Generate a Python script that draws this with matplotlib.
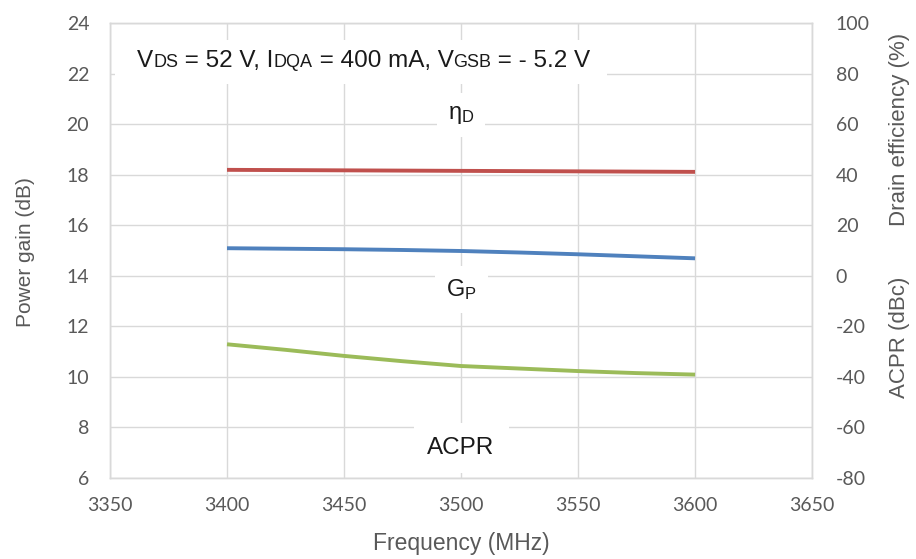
import matplotlib
matplotlib.use('Agg')
import matplotlib.pyplot as plt
import matplotlib.transforms as mtransforms
from matplotlib.patches import Rectangle

# Data
freq = [3400, 3425, 3450, 3475, 3500, 3525, 3550, 3575, 3600]
gain = [15.09, 15.07, 15.05, 15.02, 14.98, 14.92, 14.85, 14.77, 14.69]
eta = [41.9, 41.8, 41.7, 41.6, 41.5, 41.4, 41.3, 41.2, 41.1]
acpr = [-27.1, -29.3, -31.7, -33.8, -35.7, -36.7, -37.7, -38.5, -39.1]

x_ticks = [3350, 3400, 3450, 3500, 3550, 3600, 3650]
left_ticks = list(range(6, 25, 2))
right_ticks = list(range(-80, 101, 20))

plt.rcParams['mathtext.fontset'] = 'custom'
plt.rcParams['mathtext.rm'] = 'Liberation Sans'
plt.rcParams['mathtext.it'] = 'Liberation Sans'
plt.rcParams['axes.unicode_minus'] = False

grid_c = '#D9D9D9'
label_c = '#595959'
txt_c = '#1a1a1a'

fig = plt.figure(figsize=(9.16, 5.59), dpi=100)
ax = fig.add_axes([0.1201, 0.1449, 0.7664, 0.814])
ax2 = ax.twinx()

ax.plot(freq, gain, color='#4F81BD', lw=2.8, zorder=3, solid_capstyle='butt')
ax2.plot(freq, eta, color='#C0504D', lw=2.8, solid_capstyle='butt')
ax2.plot(freq, acpr, color='#9BBB59', lw=2.8, solid_capstyle='butt')

ax.set_xlim(3350, 3650)
ax.set_ylim(6, 24)
ax2.set_ylim(-80, 100)
ax.set_xticks(x_ticks)
ax.set_yticks(left_ticks)
ax2.set_yticks(right_ticks)

ax.set_axisbelow(True)
ax.grid(True, color=grid_c, lw=1.0)
for a in (ax, ax2):
    for s in a.spines.values():
        s.set_color(grid_c)
        s.set_linewidth(1.0)
    a.tick_params(length=0, labelsize=14, labelcolor=label_c)
    for lab in a.get_xticklabels() + a.get_yticklabels():
        lab.set_family('Lato')
ax.tick_params(axis='y', pad=15)
ax.tick_params(axis='x', pad=14)
ax2.tick_params(axis='y', pad=17)

# axis titles
ax.text(0.5, -0.143, 'Frequency (MHz)', transform=ax.transAxes, ha='center', va='center',
        fontsize=16.5, color=label_c, family='Liberation Sans')
ax.text(-0.121, 0.497, 'Power gain (dB)', transform=ax.transAxes, ha='center', va='center',
        rotation=90, fontsize=15, color=label_c, family='Liberation Sans')
ax2.text(1.125, 0.767, 'Drain efficiency (%)', transform=ax.transAxes, ha='center', va='center',
         rotation=90, fontsize=16, color=label_c, family='Liberation Sans')
ax2.text(1.125, 0.31, 'ACPR (dBc)', transform=ax.transAxes, ha='center', va='center',
         rotation=90, fontsize=16, color=label_c, family='Liberation Sans')

# series labels with white boxes
ax.text(3500, 20.36, 'η$_\\mathregular{D}$', ha='center', va='center', fontsize=17,
        color=txt_c, family='Liberation Sans', bbox=dict(facecolor='white', edgecolor='none', pad=8), zorder=4)
ax.text(3500, 13.44, 'G$_\\mathregular{P}$', ha='center', va='center', fontsize=17,
        color=txt_c, family='Liberation Sans', bbox=dict(facecolor='white', edgecolor='none', pad=8), zorder=4)
ax.text(3500, 7.19, 'ACPR', ha='center', va='center', fontsize=17.5,
        color=txt_c, family='Liberation Sans', bbox=dict(facecolor='white', edgecolor='none', pad=10), zorder=4)

# bias conditions text with small-caps style subscripts on the baseline
parts = [('V', 17.5), ('DS', 13), (' = 52 V, I', 17.5), ('DQA', 13), (' = 400 mA, V', 17.5),
         ('GSB', 13), (' = - 5.2 V', 17.5)]
fig.canvas.draw()
r = fig.canvas.get_renderer()
dx = 0
artists = []
for s, size in parts:
    tr = mtransforms.offset_copy(ax.transAxes, fig=fig, x=dx, y=0, units='dots')
    t = ax.text(0.0385, 0.9026, s, transform=tr, ha='left', va='baseline', fontsize=size,
                color=txt_c, family='Liberation Sans', zorder=5)
    ext = t.get_window_extent(r)
    dx += ext.width
    artists.append(t)
exts = [t.get_window_extent(r) for t in artists]
x0 = min(e.x0 for e in exts) - 22
x1 = max(e.x1 for e in exts) + 16
y0 = min(e.y0 for e in exts) - 12
y1 = max(e.y1 for e in exts) + 10
inv = ax.transAxes.inverted()
(ax0, ay0), (ax1, ay1) = inv.transform([(x0, y0), (x1, y1)])
ax.add_patch(Rectangle((ax0, ay0), ax1 - ax0, ay1 - ay0, transform=ax.transAxes,
                       facecolor='white', edgecolor='none', zorder=2))

fig.savefig('out.png', dpi=100)
